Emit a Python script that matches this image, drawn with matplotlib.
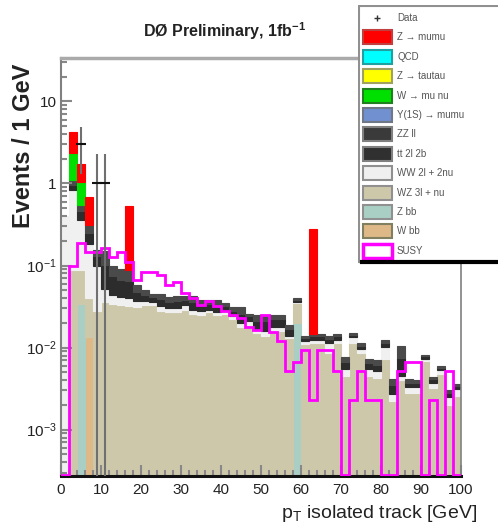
import numpy as np
import matplotlib
matplotlib.use("Agg")
import matplotlib.pyplot as plt
from matplotlib.patches import Rectangle
from matplotlib.ticker import FixedLocator, FixedFormatter, LogLocator, NullFormatter, MultipleLocator

plt.rcParams['font.family'] = ['Liberation Sans', 'DejaVu Sans']
plt.rcParams['mathtext.fontset'] = 'custom'
plt.rcParams['mathtext.rm'] = 'Liberation Sans'
plt.rcParams['mathtext.it'] = 'Liberation Sans:italic'
plt.rcParams['mathtext.bf'] = 'Liberation Sans:bold'

# 2 GeV bins, 0 - 100 GeV
edges = np.arange(0, 101, 2)

# Events / 1 GeV, one value per bin
wz = [0, 0.088, 0.054, 0.027, 0.028, 0.036, 0.034, 0.033, 0.032, 0.031,
      0.033, 0.033, 0.028, 0.027, 0.027, 0.029, 0.026, 0.025, 0.027, 0.025,
      0.026, 0.022, 0.018, 0.019, 0.015, 0.014, 0.016, 0.016, 0.013, 0.015,
      0.011, 0.0115, 0.0115, 0.0085, 0.0115, 0.0045, 0.0115, 0.0085, 0.0045, 0.0042,
      0.0072, 0.0022, 0.0040, 0.0028, 0.0028, 0.0068, 0.0032, 0.0048, 0.0020, 0.0026]
ww = [0.40, 0.74, 0.27, 0.14, 0.072, 0.015, 0.010, 0.008, 0.008, 0.006,
      0.004, 0.003, 0.004, 0.003, 0.003, 0.004, 0.003, 0.003, 0.002, 0.002,
      0.002, 0.002, 0.002, 0.002, 0.002, 0.002, 0.002, 0.002, 0.001, 0.001,
      0.001, 0.001, 0.001, 0.003, 0.001, 0.001, 0.002, 0.001, 0.001, 0.001,
      0.003, 0.0005, 0.0005, 0.0005, 0.0005, 0.0005, 0.0005, 0.0005, 0.0005, 0.0005]
ttbar = [0, 0.13, 0.10, 0.07, 0.03, 0.05, 0.03, 0.025, 0.025, 0.011,
         0.007, 0.005, 0.007, 0.006, 0.007, 0.005, 0.007, 0.005, 0.005, 0.006,
         0.004, 0.004, 0.006, 0.003, 0.004, 0.005, 0.004, 0.004, 0.003, 0.002,
         0.001, 0.0012, 0.0012, 0.0012, 0.0012, 0.0012, 0.0008, 0.001, 0.001, 0.001,
         0.0012, 0.0008, 0.003, 0.0004, 0.0004, 0.0005, 0.0004, 0.0004, 0.0003, 0.0003]
zz = [0, 0.14, 0.09, 0.06, 0.024, 0.05, 0.026, 0.024, 0.023, 0.010,
      0.006, 0.004, 0.006, 0.005, 0.006, 0.004, 0.006, 0.005, 0.004, 0.005,
      0.003, 0.003, 0.005, 0.002, 0.004, 0.004, 0.003, 0.003, 0.002, 0.002,
      0.001, 0.001, 0.001, 0.001, 0.001, 0.001, 0.0008, 0.0008, 0.0008, 0.0008,
      0.001, 0.0006, 0.003, 0.0004, 0.0003, 0.0004, 0.0003, 0.0003, 0.0002, 0.0002]
susy = [0, 0.10, 0.187, 0.146, 0.146, 0.163, 0.127, 0.146, 0.11, 0.066,
        0.083, 0.083, 0.076, 0.058, 0.063, 0.046, 0.040, 0.033, 0.037, 0.032,
        0.028, 0.025, 0.023, 0.018, 0.0165, 0.025, 0.0155, 0.012, 0.0052, 0.0067,
        0.0093, 0.0023, 0.0093, 0.0093, 0.0052, 0, 0.0023, 0.0052, 0.0023, 0.0023,
        0, 0, 0.0052, 0.0067, 0.0067, 0, 0.0023, 0, 0.0052, 0]

# sparse samples: lower bin edge (GeV) -> value
wbb_at, wbb_val = [6], [0.0135]
zbb_at, zbb_val = [4, 58], [0.034, 0.020]
wmunu_at, wmunu_val = [2, 4], [1.24, 0.49]
zmumu_at, zmumu_val = [2, 4, 6, 16, 62], [1.9, 0.68, 0.37, 0.45, 0.26]

# data
data_x = [5, 9, 11]
data_y = [3.0, 1.0, 1.0]
data_lo = [1.7, 0.9999, 0.9999]
data_hi = [1.9, 1.3, 1.3]


def sparse(at, val):
    arr = np.zeros(len(edges) - 1)
    arr[np.searchsorted(edges, at)] = val
    return arr


fig = plt.figure(figsize=(4.98, 5.29), dpi=100)
ax = fig.add_axes([61 / 498, 1 - 476 / 529, 400 / 498, 418 / 529])

layers = [
    (sparse(wbb_at, wbb_val), '#deb887'),
    (sparse(zbb_at, zbb_val), '#a9cfc5'),
    (np.array(wz), '#cec8ab'),
    (np.array(ww), '#f0f0f0'),
    (np.array(ttbar), '#2c2c2c'),
    (np.array(zz), '#4a4a4a'),
    (sparse(wmunu_at, wmunu_val), '#00e000'),
    (sparse(zmumu_at, zmumu_val), '#ff0000'),
]
base = np.full(len(edges) - 1, 1e-6)
for vals, col in layers:
    keep = vals > 0
    ax.bar(edges[:-1][keep], vals[keep], width=2, bottom=base[keep], align='edge',
           color=col, edgecolor=col, lw=0.8)
    base = base + vals

ymin, ymax = 2.72e-4, 33.8
susy_draw = np.maximum(np.array(susy), ymin * 1.02)
ax.stairs(susy_draw, edges, color='#ff00ff', lw=2, zorder=3)

ax.errorbar(data_x, data_y, yerr=[data_lo, data_hi], fmt='_', color='#111111',
            ms=7, mew=1.5, ecolor='#707070', elinewidth=1.5, zorder=4)

ax.set_yscale('log')
ax.set_xlim(0, 100)
ax.set_ylim(ymin, ymax)
ax.yaxis.set_major_locator(FixedLocator([1e-3, 1e-2, 1e-1, 1, 10]))
ax.yaxis.set_major_formatter(FixedFormatter(['$10^{-3}$', '$10^{-2}$', '$10^{-1}$', '1', '10']))
ax.yaxis.set_minor_locator(LogLocator(base=10, subs=np.arange(2, 10)))
ax.yaxis.set_minor_formatter(NullFormatter())
ax.xaxis.set_major_locator(MultipleLocator(10))
ax.xaxis.set_minor_locator(MultipleLocator(2))
ax.tick_params(which='both', direction='in', color='#888888', labelsize=11, labelcolor='#222222')
ax.tick_params(which='major', length=8, width=1.5)
ax.tick_params(which='minor', length=4, width=1.5)
ax.tick_params(axis='x', pad=5)
ax.tick_params(axis='y', pad=3)

ax.spines['bottom'].set_color('#111111')
ax.spines['bottom'].set_linewidth(2.2)
ax.spines['left'].set_color('#808080')
ax.spines['left'].set_linewidth(1.5)
ax.spines['top'].set_color('#aaaaaa')
ax.spines['top'].set_linewidth(2.5)
ax.spines['right'].set_color('#808080')
ax.spines['right'].set_linewidth(1.2)

fig.text(225 / 498, 1 - 31 / 529, 'DØ Preliminary, 1fb$^{\\mathbf{-1}}$', ha='center', va='center',
         fontsize=11.5, fontweight='bold', color='#222222')
fig.text(24 / 498, 1 - 64 / 529, 'Events / 1 GeV', rotation=90, ha='center', va='top',
         fontsize=17, fontweight='bold', color='#222222')
fig.text(477 / 498, 1 - 513 / 529, 'p$_{\\mathrm{T}}$ isolated track [GeV]', ha='right',
         va='center', fontsize=14, color='#222222')

# legend box
leg_labels = ['Data', 'Z → mumu', 'QCD', 'Z → tautau', 'W → mu nu', 'Υ(1S) → mumu', 'ZZ ll',
              'tt 2l 2b', 'WW 2l + 2nu', 'WZ 3l + nu', 'Z bb', 'W bb', 'SUSY']
leg_face = [None, '#ff0000', '#00ffff', '#ffff00', '#00e000', '#7090d0', '#3a3a3a',
            '#303030', '#f0f0f0', '#cec8ab', '#a9cfc5', '#deb887', '#ffffff']
leg_edge = [None, '#c04040', '#20a0a0', '#a0a060', '#208020', '#707888', '#808080',
            '#808080', '#909090', '#909090', '#909090', '#808060', '#ff00ff']

lax = fig.add_axes([358 / 498, 1 - 265 / 529, 140 / 498, 260 / 529])
lax.set_xlim(358, 498)
lax.set_ylim(265, 5)
lax.axis('off')
lax.add_patch(Rectangle((359, 6), 140, 256, facecolor='white', edgecolor='none'))
lax.plot([359, 359], [6, 262], color='#909090', lw=1.5)
lax.plot([359, 498], [6, 6], color='#909090', lw=1.5)
lax.plot([362, 498], [262, 262], color='black', lw=3)

for i, (lab, fc, ec) in enumerate(zip(leg_labels, leg_face, leg_edge)):
    yc = 18 + 19.4 * i
    if fc is None:
        lax.plot([377], [yc], marker='+', color='#333333', ms=4, mew=1)
    else:
        lw = 2.5 if lab == 'SUSY' else 1.5
        lax.add_patch(Rectangle((363, yc - 7), 29, 14, facecolor=fc, edgecolor=ec, lw=lw))
    lax.text(397, yc, lab, fontsize=7, va='center', ha='left', color='#555555')

fig.savefig('out.png', dpi=100)
